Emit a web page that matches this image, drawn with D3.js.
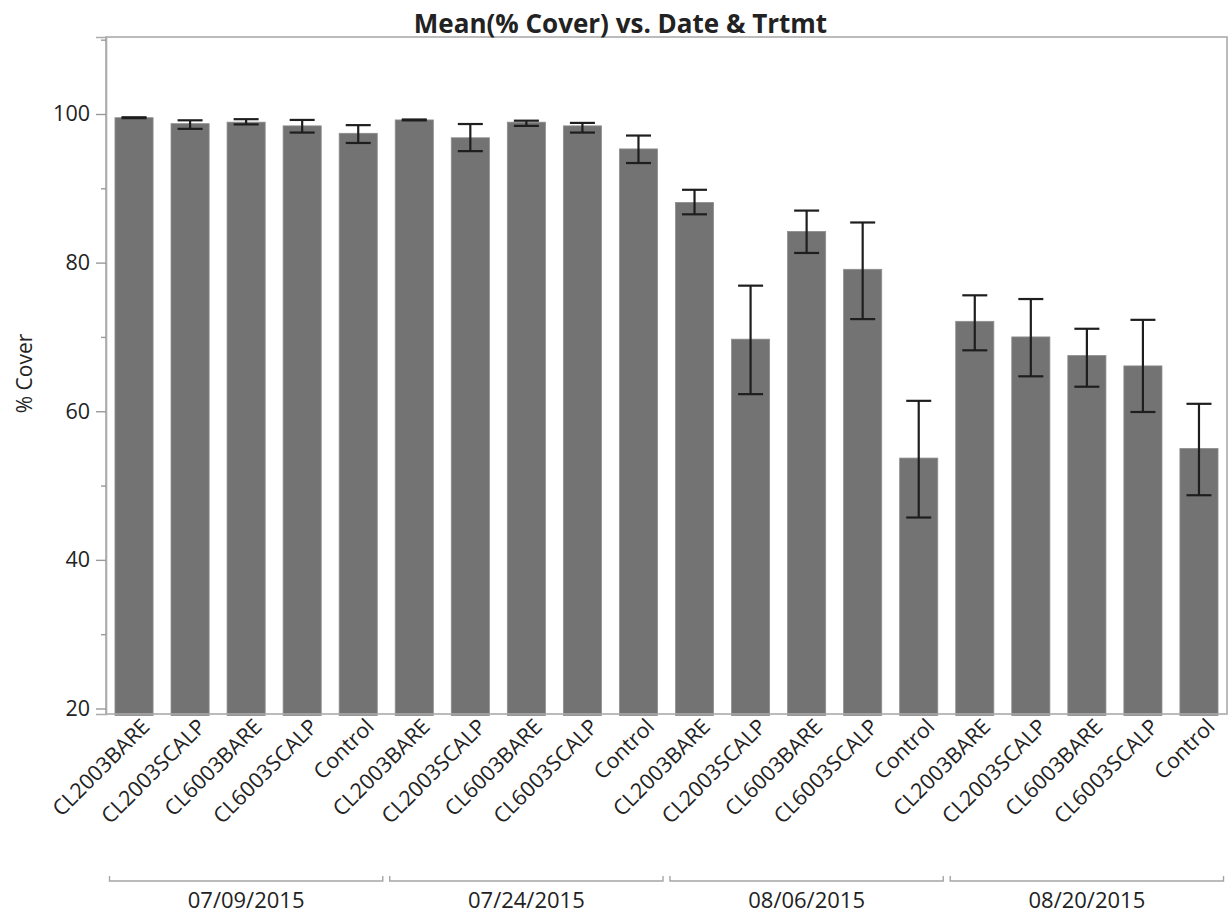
<!DOCTYPE html>
<html>
<head>
<meta charset="utf-8">
<script src="https://cdn.jsdelivr.net/npm/d3@7"></script>
<style>
  html, body { margin: 0; padding: 0; background: #fff; }
  svg { display: block; }
  text { font-family: "Open Sans", "Noto Sans", sans-serif; fill: #222; }
</style>
</head>
<body>
<svg id="chart" width="1229" height="917"></svg>
<script>
// ---- data ----
const dates = ["07/09/2015", "07/24/2015", "08/06/2015", "08/20/2015"];
const treatments = ["CL2003BARE", "CL2003SCALP", "CL6003BARE", "CL6003SCALP", "Control"];
const meanCover = [99.5, 98.7, 98.9, 98.4, 97.4,
                   99.2, 96.8, 98.9, 98.4, 95.3,
                   88.1, 69.7, 84.2, 79.1, 53.7,
                   72.1, 70.0, 67.5, 66.1, 55.0];
const errUpper = [99.56, 99.15, 99.3, 99.2, 98.5,
                  99.26, 98.65, 99.1, 98.8, 97.1,
                  89.8, 76.9, 87.0, 85.4, 61.4,
                  75.6, 75.1, 71.1, 72.3, 61.0];
const errLower = [99.44, 98.0, 98.6, 97.5, 96.1,
                  99.14, 95.0, 98.4, 97.5, 93.4,
                  86.5, 62.3, 81.3, 72.4, 45.7,
                  68.2, 64.7, 63.3, 59.9, 48.7];
const majorTicks = [20, 40, 60, 80, 100];
const minorTicks = [30, 50, 70, 90, 110];
const titleText = "Mean(% Cover) vs. Date & Trtmt";
const yLabel = "% Cover";

// ---- layout ----
const W = 1229, H = 917;
const plot = { left: 106, right: 1227, top: 37, bottom: 714 };
const svg = d3.select("#chart");

const rows = [];
dates.forEach((d, gi) => treatments.forEach((t, ti) => {
  const i = gi * treatments.length + ti;
  rows.push({ key: d + "|" + t, date: d, trt: t, mean: meanCover[i], hi: errUpper[i], lo: errLower[i] });
}));

const x = d3.scaleBand()
  .domain(rows.map(r => r.key))
  .range([plot.left, plot.right])
  .paddingInner(0.32)
  .paddingOuter(0.16);

const y = d3.scaleLinear()
  .domain([19.26, 110.36])
  .range([plot.bottom, plot.top]);

// bars
svg.append("g").selectAll("rect").data(rows).join("rect")
  .attr("x", d => x(d.key))
  .attr("width", x.bandwidth())
  .attr("y", d => y(d.mean))
  .attr("height", d => plot.bottom + 1.5 - y(d.mean))
  .attr("fill", "#737373")
  .attr("stroke", "#8e8e8e")
  .attr("stroke-width", 0.8);

// error bars
const capW = 12.5;
const eb = svg.append("g").attr("stroke", "#1e1e1e").attr("stroke-width", 2.2).attr("fill", "none");
rows.forEach(d => {
  const cx = x(d.key) + x.bandwidth() / 2;
  eb.append("line").attr("x1", cx).attr("x2", cx).attr("y1", y(d.hi)).attr("y2", y(d.lo));
  eb.append("line").attr("x1", cx - capW).attr("x2", cx + capW).attr("y1", y(d.hi)).attr("y2", y(d.hi));
  eb.append("line").attr("x1", cx - capW).attr("x2", cx + capW).attr("y1", y(d.lo)).attr("y2", y(d.lo));
});

// frame
svg.append("rect")
  .attr("x", plot.left).attr("y", plot.top)
  .attr("width", plot.right - plot.left).attr("height", plot.bottom - plot.top)
  .attr("fill", "none").attr("stroke", "#ababab").attr("stroke-width", 1.6);

// y axis
const yAxis = d3.axisLeft(y).tickValues(majorTicks).tickSize(10).tickPadding(6).tickFormat(d3.format("d"));
const gy = svg.append("g").attr("transform", `translate(${plot.left},0)`).call(yAxis);
gy.select(".domain").attr("stroke", "#ababab").attr("stroke-width", 1.6);
gy.selectAll(".tick line").attr("stroke", "#9a9a9a").attr("stroke-width", 1.4);
gy.selectAll(".tick text").attr("font-size", 21.5).attr("fill", "#222")
  .attr("font-family", "'Open Sans', sans-serif");
const yMinor = d3.axisLeft(y).tickValues(minorTicks).tickSize(5).tickFormat("");
const gym = svg.append("g").attr("transform", `translate(${plot.left},0)`).call(yMinor);
gym.select(".domain").remove();
gym.selectAll(".tick line").attr("stroke", "#9a9a9a").attr("stroke-width", 1.4);

// y label
svg.append("text")
  .attr("transform", `translate(32,${(plot.top + plot.bottom) / 2 - 2}) rotate(-90)`)
  .attr("text-anchor", "middle")
  .attr("font-size", 21)
  .text(yLabel);

// title
svg.append("text")
  .attr("x", W / 2 + 6).attr("y", 33)
  .attr("text-anchor", "middle")
  .attr("font-size", 26).attr("font-weight", "bold")
  .attr("fill", "#111")
  .text(titleText);

// category labels (rotated)
svg.append("g").selectAll("text").data(rows).join("text")
  .attr("transform", d => `translate(${x(d.key) + x.bandwidth() / 2 + 17},${plot.bottom + 14}) rotate(-45)`)
  .attr("text-anchor", "end")
  .attr("font-size", 21.5)
  .text(d => d.trt);

// group brackets and labels
const step = x.step();
const gb = svg.append("g");
dates.forEach((d, gi) => {
  const first = x(d + "|" + treatments[0]) - x.paddingInner() * step / 2;
  const last = x(d + "|" + treatments[treatments.length - 1]) + x.bandwidth() + x.paddingInner() * step / 2;
  const x0 = first + 3.5, x1 = last - 3.5, yb = 881;
  gb.append("path")
    .attr("d", `M${x0},${yb - 5}V${yb}H${x1}V${yb - 5}`)
    .attr("fill", "none").attr("stroke", "#a5a5a5").attr("stroke-width", 1.4);
  gb.append("text")
    .attr("x", (first + last) / 2).attr("y", 908)
    .attr("text-anchor", "middle")
    .attr("font-size", 22)
    .text(d);
});
</script>
</body>
</html>
